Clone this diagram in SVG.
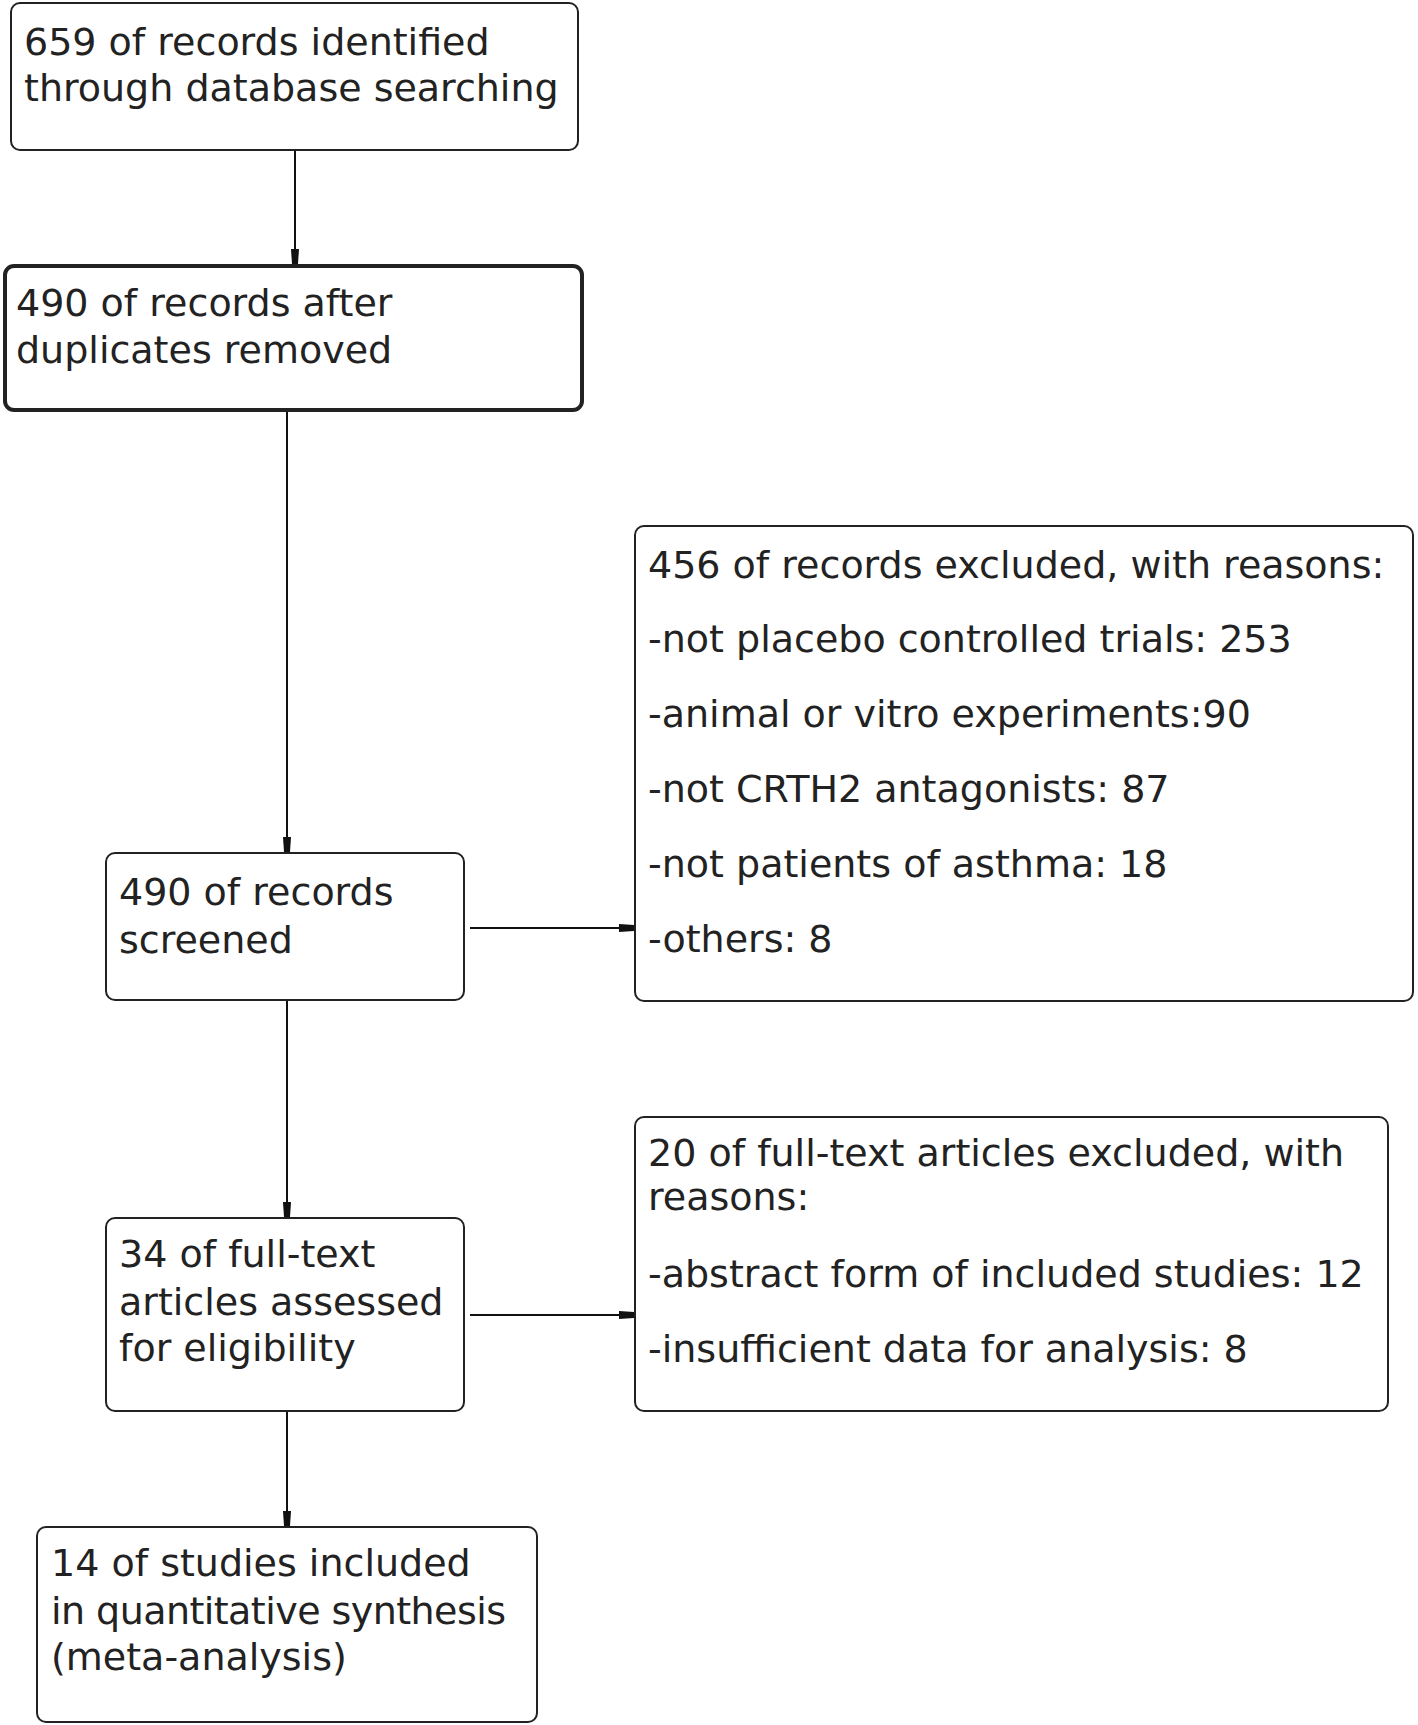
<svg xmlns="http://www.w3.org/2000/svg" width="1418" height="1725" viewBox="0 0 1418 1725">
<style>
.box{fill:#fff;stroke:#222;stroke-width:2}
.bold{stroke-width:4}
.t{font-family:"DejaVu Sans","Liberation Sans",sans-serif;font-size:38px;fill:#222}
.c{stroke:#111;stroke-width:2;fill:none;marker-end:url(#ah)}
</style>
<defs>
<marker id="ah" markerWidth="16" markerHeight="12" refX="15" refY="6" orient="auto" markerUnits="userSpaceOnUse">
<path d="M0,2 L15,3 L15,9 L0,10 Z" fill="#111"/>
</marker>
</defs>
<rect width="1418" height="1725" fill="#fff"/>
<g id="connectors">
<line class="c" x1="295" y1="150" x2="295" y2="264"/>
<line class="c" x1="287" y1="411" x2="287" y2="852"/>
<line class="c" x1="470" y1="928" x2="634" y2="928"/>
<line class="c" x1="287" y1="1001" x2="287" y2="1217"/>
<line class="c" x1="470" y1="1315" x2="634" y2="1315"/>
<line class="c" x1="287" y1="1412" x2="287" y2="1526"/>
</g>
<g id="n1">
<rect class="box" x="11" y="3" width="567" height="147" rx="9"/>
<text class="t" x="24" y="55">659 of records identified</text>
<text class="t" x="24" y="101">through database searching</text>
</g>
<g id="n2">
<rect class="box bold" x="5" y="266" width="577" height="144" rx="9"/>
<text class="t" x="16" y="316">490 of records after</text>
<text class="t" x="16" y="363">duplicates removed</text>
</g>
<g id="n3">
<rect class="box" x="106" y="853" width="358" height="147" rx="9"/>
<text class="t" x="119" y="905">490 of records</text>
<text class="t" x="119" y="953">screened</text>
</g>
<g id="n4">
<rect class="box" x="635" y="526" width="778" height="475" rx="9"/>
<text class="t" x="648" y="578">456 of records excluded, with reasons:</text>
<text class="t" x="648" y="652">-not placebo controlled trials: 253</text>
<text class="t" x="648" y="727">-animal or vitro experiments:90</text>
<text class="t" x="648" y="802">-not CRTH2 antagonists: 87</text>
<text class="t" x="648" y="877">-not patients of asthma: 18</text>
<text class="t" x="648" y="952">-others: 8</text>
</g>
<g id="n5">
<rect class="box" x="106" y="1218" width="358" height="193" rx="9"/>
<text class="t" x="119" y="1267">34 of full-text</text>
<text class="t" x="119" y="1315">articles assessed</text>
<text class="t" x="119" y="1361">for eligibility</text>
</g>
<g id="n6">
<rect class="box" x="635" y="1117" width="753" height="294" rx="9"/>
<text class="t" x="648" y="1166">20 of full-text articles excluded, with</text>
<text class="t" x="648" y="1210">reasons:</text>
<text class="t" x="648" y="1287">-abstract form of included studies: 12</text>
<text class="t" x="648" y="1362">-insufficient data for analysis: 8</text>
</g>
<g id="n7">
<rect class="box" x="37" y="1527" width="500" height="195" rx="9"/>
<text class="t" x="51" y="1576">14 of studies included</text>
<text class="t" x="51" y="1624" textLength="455">in quantitative synthesis</text>
<text class="t" x="51" y="1670">(meta-analysis)</text>
</g>
</svg>
